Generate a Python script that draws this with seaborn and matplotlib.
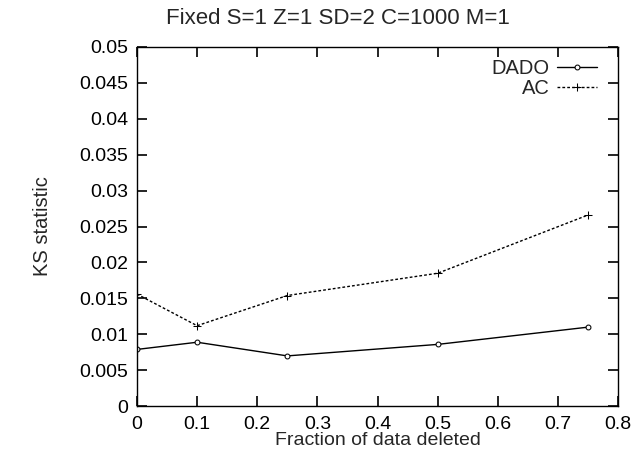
import matplotlib
matplotlib.use("Agg")
import matplotlib.pyplot as plt
import seaborn as sns
import pandas as pd

fraction = [0, 0.1, 0.25, 0.5, 0.75]
dado = [0.0079, 0.0089, 0.0070, 0.0086, 0.0110]
ac = [0.0156, 0.0112, 0.0154, 0.0185, 0.0266]

df = pd.DataFrame({"fraction": fraction, "DADO": dado, "AC": ac})

sns.set_style("ticks", {"axes.axisbelow": False})
plt.rcParams["font.family"] = ["Liberation Sans", "DejaVu Sans"]
plt.rcParams["xtick.direction"] = "in"
plt.rcParams["ytick.direction"] = "in"

fig = plt.figure(figsize=(6.34, 4.59), dpi=100)
ax = fig.add_axes([0.216, 0.115, 0.759, 0.783])

sns.lineplot(data=df, x="fraction", y="DADO", ax=ax, color="black", lw=1,
             marker="o", markersize=3.5, markerfacecolor="white",
             markeredgecolor="black", label="DADO")
sns.lineplot(data=df, x="fraction", y="AC", ax=ax, color="black", lw=1,
             linestyle=(0, (2, 1.5)), marker="+", markersize=6,
             markeredgecolor="black", label="AC")

ax.set_xlim(0, 0.8)
ax.set_ylim(0, 0.05)
ax.set_xticks([0, 0.1, 0.2, 0.3, 0.4, 0.5, 0.6, 0.7, 0.8])
ax.set_xticklabels(["0", "0.1", "0.2", "0.3", "0.4", "0.5", "0.6", "0.7", "0.8"])
ax.set_yticks([0, 0.005, 0.01, 0.015, 0.02, 0.025, 0.03, 0.035, 0.04, 0.045, 0.05])
ax.set_yticklabels(["0", "0.005", "0.01", "0.015", "0.02", "0.025", "0.03",
                    "0.035", "0.04", "0.045", "0.05"])
ax.minorticks_off()
ax.tick_params(which="major", direction="in", labelsize=14, bottom=True,
               left=True, top=True, right=True, length=7, width=1.2,
               color="black", labelcolor="black", zorder=5)
ax.tick_params(axis="x", pad=7)
ax.tick_params(axis="y", pad=6)
for s in ax.spines.values():
    s.set_linewidth(1)
    s.set_color("black")

ax.set_xlabel("Fraction of data deleted", fontsize=14, labelpad=-1)
ax.set_ylabel("KS statistic", fontsize=14.5, labelpad=20)
fig.text(0.533, 0.96, "Fixed S=1 Z=1 SD=2 C=1000 M=1", fontsize=16,
         ha="center", va="center")

ax.legend(loc="upper right", frameon=False, markerfirst=False, fontsize=14.5,
          handlelength=2.0, handletextpad=0.35, labelspacing=0.05,
          borderaxespad=0.4, bbox_to_anchor=(0.99, 1.01))

fig.savefig("out.png", dpi=100)
